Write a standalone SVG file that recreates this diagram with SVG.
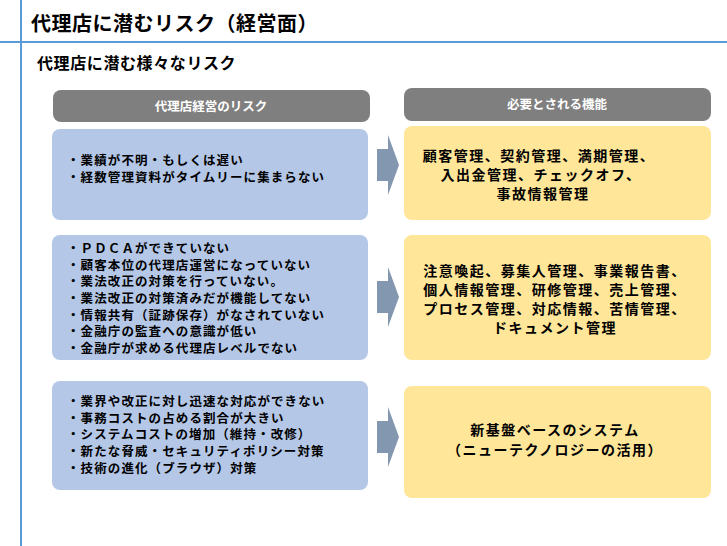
<svg xmlns="http://www.w3.org/2000/svg" width="727" height="546" viewBox="0 0 727 546">
<style>
text{font-family:"Noto Sans CJK JP","Noto Sans",sans-serif;font-weight:bold;fill:#000}
.hd{fill:#7f7f7f}
.hdt{fill:#fff;font-size:12.5px;text-anchor:middle}
.l{fill:#b4c7e7}
.r{fill:#ffe699}
.lt{font-size:12.5px;letter-spacing:1.1px}
.rt{font-size:14px;letter-spacing:1.5px;text-anchor:middle}
.ar{fill:#8497b0}
</style>
<rect width="727" height="546" fill="#fff"/>
<line x1="21" y1="0" x2="21" y2="546" stroke="#5b9bd5" stroke-width="2"/>
<line x1="0" y1="42" x2="727" y2="42" stroke="#5b9bd5" stroke-width="2"/>
<text x="31" y="31" font-size="20" letter-spacing="0.5">代理店に潜むリスク（経営面）</text>
<text x="37" y="69" font-size="16" letter-spacing="0.6">代理店に潜む様々なリスク</text>
<g id="hdrL"><rect class="hd" x="53" y="90" width="317" height="32" rx="8"/><text class="hdt" x="211" y="111">代理店経営のリスク</text></g>
<g id="hdrR"><rect class="hd" x="404" y="88" width="307" height="33" rx="8"/><text class="hdt" x="557" y="109">必要とされる機能</text></g>
<g id="L1"><rect class="l" x="52" y="129" width="316" height="91" rx="8"/>
<text class="lt" x="67" y="165">・業績が不明・もしくは遅い</text>
<text class="lt" x="67" y="182">・経数管理資料がタイムリーに集まらない</text></g>
<g id="R1"><rect class="r" x="404" y="126" width="307" height="94" rx="8"/>
<text class="rt" x="539" y="161">顧客管理、契約管理、満期管理、</text>
<text class="rt" x="541" y="180">入出金管理、チェックオフ、</text>
<text class="rt" x="543" y="199">事故情報管理</text></g>
<g id="L2"><rect class="l" x="52" y="235" width="316" height="125" rx="8"/>
<text class="lt" x="67" y="253">・ＰＤＣＡができていない</text>
<text class="lt" x="67" y="270">・顧客本位の代理店運営になっていない</text>
<text class="lt" x="67" y="286">・業法改正の対策を行っていない。</text>
<text class="lt" x="67" y="303">・業法改正の対策済みだが機能してない</text>
<text class="lt" x="67" y="320">・情報共有（証跡保存）がなされていない</text>
<text class="lt" x="67" y="336">・金融庁の監査への意識が低い</text>
<text class="lt" x="67" y="353">・金融庁が求める代理店レベルでない</text></g>
<g id="R2"><rect class="r" x="404" y="235" width="307" height="125" rx="8"/>
<text class="rt" x="555" y="276">注意喚起、募集人管理、事業報告書、</text>
<text class="rt" x="555" y="295">個人情報管理、研修管理、売上管理、</text>
<text class="rt" x="555" y="314">プロセス管理、対応情報、苦情管理、</text>
<text class="rt" x="555" y="333">ドキュメント管理</text></g>
<g id="L3"><rect class="l" x="52" y="381" width="316" height="109" rx="8"/>
<text class="lt" x="67" y="406">・業界や改正に対し迅速な対応ができない</text>
<text class="lt" x="67" y="423">・事務コストの占める割合が大きい</text>
<text class="lt" x="67" y="439">・システムコストの増加（維持・改修）</text>
<text class="lt" x="67" y="456">・新たな脅威・セキュリティポリシー対策</text>
<text class="lt" x="67" y="473">・技術の進化（ブラウザ）対策</text></g>
<g id="R3"><rect class="r" x="404" y="386" width="307" height="112" rx="8"/>
<text class="rt" x="555" y="435">新基盤ベースのシステム</text>
<text class="rt" x="555" y="455">（ニューテクノロジーの活用）</text></g>
<g id="connectors">
<polygon class="ar" points="377,149 388,149 388,135 399,165 388,195 388,181 377,181"/>
<polygon class="ar" points="377,281 388,281 388,267 399,297 388,327 388,313 377,313"/>
<polygon class="ar" points="377,421 388,421 388,407 399,437 388,467 388,453 377,453"/>
</g>
</svg>
